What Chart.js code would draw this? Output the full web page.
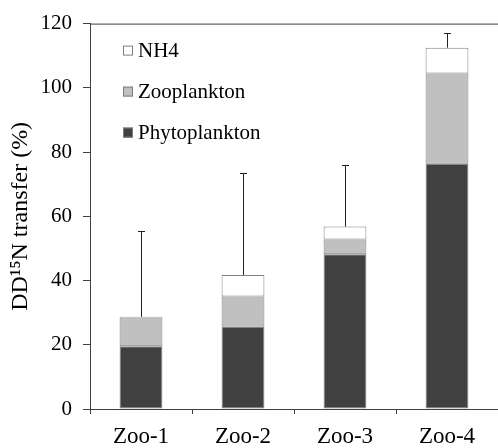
<!DOCTYPE html>
<html>
<head>
<meta charset="utf-8">
<script src="https://cdn.jsdelivr.net/npm/chart.js@4/dist/chart.umd.min.js"></script>
<style>
  html, body { margin: 0; padding: 0; background: #fff; }
  #wrap { width: 498px; height: 448px; }
</style>
</head>
<body>
<div id="wrap"><canvas id="myChart"></canvas></div>
<script>
// stacked bars with upper error bar

const categories = ["Zoo-1", "Zoo-2", "Zoo-3", "Zoo-4"];
const phytoplankton = [19.5, 25.7, 48.2, 76.4];
const zooplankton = [9.0, 9.3, 4.6, 28.1];
const nh4 = [0.2, 6.7, 4.0, 8.0];
const errorTop = [55.3, 73.5, 76.0, 117.0];
const yTicks = [0, 20, 40, 60, 80, 100, 120];

const serif = "'Liberation Serif', 'Times New Roman', serif";
const axisColor = "#404040";

// legend drawn inside the plot, top-left
const legendInside = {
    id: "legendInside",
    afterDraw(chart) {
        const ctx = chart.ctx;
        const area = chart.chartArea;
        const sets = chart.data.datasets.slice().reverse();
        ctx.save();
        ctx.font = "21px " + serif;
        ctx.textBaseline = "middle";
        sets.forEach((ds, i) => {
            const y = area.top + 27 + i * 41;
            const x = area.left + 33;
            ctx.fillStyle = ds.backgroundColor;
            ctx.fillRect(x, y - 5, 10, 10);
            ctx.strokeStyle = "#808080";
            ctx.lineWidth = 1;
            ctx.strokeRect(x + 0.5, y - 4.5, 9, 9);
            ctx.fillStyle = "#000";
            ctx.fillText(ds.label, x + 15, y + 1);
        });
        ctx.restore();
    }
};

// error bars above the stacks + top frame line
const errorBars = {
    id: "errorBars",
    afterDatasetsDraw(chart) {
        const ctx = chart.ctx;
        const xs = chart.scales.x;
        const ys = chart.scales.y;
        const area = chart.chartArea;
        ctx.save();
        ctx.strokeStyle = axisColor;
        ctx.lineWidth = 1;
        ctx.beginPath();
        ctx.moveTo(area.left, area.top + 0.5);
        ctx.lineTo(area.right, area.top + 0.5);
        ctx.stroke();
        ctx.strokeStyle = "#202020";
        categories.forEach((c, i) => {
            const total = phytoplankton[i] + zooplankton[i] + nh4[i];
            const x = Math.round(xs.getPixelForValue(i)) + 0.5;
            const y0 = ys.getPixelForValue(total);
            const y1 = Math.round(ys.getPixelForValue(errorTop[i])) + 0.5;
            ctx.beginPath();
            ctx.moveTo(x, y0);
            ctx.lineTo(x, y1);
            ctx.moveTo(x - 3.5, y1);
            ctx.lineTo(x + 3.5, y1);
            ctx.stroke();
        });
        ctx.restore();
    }
};

const myChart = document.getElementById("myChart");

new Chart(myChart, {
    type: "bar",
    data: {
        labels: categories,
        datasets: [
            {
                label: "Phytoplankton",
                data: phytoplankton,
                backgroundColor: "#404040",
                borderColor: "#808080",
                borderWidth: 1,
                borderSkipped: false
            },
            {
                label: "Zooplankton",
                data: zooplankton,
                backgroundColor: "#c0c0c0",
                borderColor: "#808080",
                borderWidth: 1,
                borderSkipped: false
            },
            {
                label: "NH4",
                data: nh4,
                backgroundColor: "#ffffff",
                borderColor: "#808080",
                borderWidth: 1,
                borderSkipped: false
            }
        ]
    },
    options: {
        responsive: true,
        maintainAspectRatio: false,
        animation: false,
        layout: { padding: { top: 21, right: 0, left: 0, bottom: 0 } },
        datasets: { bar: { barPercentage: 0.42, categoryPercentage: 1.0 } },
        plugins: {
            legend: { display: false },
            tooltip: { enabled: false }
        },
        scales: {
            x: {
                stacked: true,
                grid: {
                    display: true,
                    offset: true,
                    drawOnChartArea: false,
                    tickLength: 5,
                    tickColor: axisColor
                },
                border: { color: axisColor, width: 1 },
                ticks: {
                    color: "#000",
                    padding: 9,
                    font: { family: serif, size: 23 }
                },
                afterFit(scale) { scale.height = 39; }
            },
            y: {
                stacked: true,
                min: 0,
                max: 120,
                afterBuildTicks(scale) {
                    scale.ticks = yTicks.map(v => ({ value: v }));
                },
                grid: {
                    drawOnChartArea: false,
                    tickLength: 7,
                    tickColor: axisColor
                },
                border: { color: axisColor, width: 1 },
                ticks: {
                    color: "#000",
                    padding: 11,
                    font: { family: serif, size: 21 }
                },
                title: {
                    display: true,
                    text: "DD\u00B9\u2075N transfer (%)",
                    color: "#000",
                    padding: { top: 6, bottom: 0 },
                    font: { family: serif, size: 24 }
                },
                afterFit(scale) { scale.width = 90; }
            }
        }
    },
    plugins: [errorBars, legendInside]
});
</script>
</body>
</html>
